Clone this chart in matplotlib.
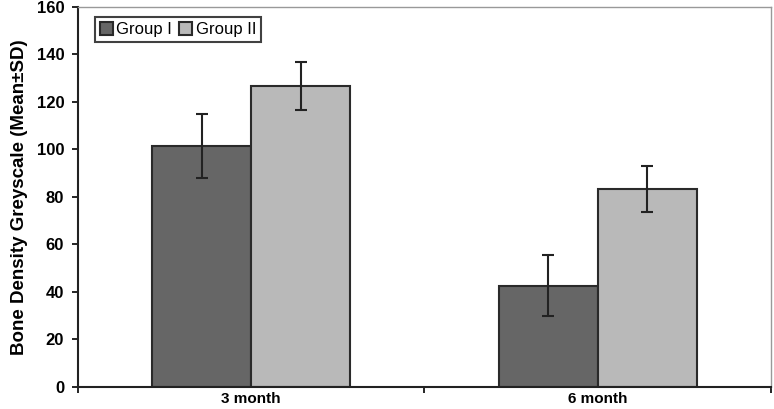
import numpy as np
import matplotlib.pyplot as plt

# --- Data ---
categories = ["3 month", "6 month"]
group_labels = ["Group I", "Group II"]
group1_mean = [101.5, 42.5]
group1_sd = [13.5, 12.8]
group2_mean = [126.7, 83.5]
group2_sd = [10.0, 9.7]

plt.rcParams['font.family'] = ['Liberation Sans', 'DejaVu Sans']

fig = plt.figure(figsize=(7.74, 4.09), dpi=100)
ax = fig.add_axes([0.1008, 0.0545, 0.8952, 0.9285])

x = np.arange(len(categories))
w = 1 / 3.5
ax.bar(x - w / 2, group1_mean, w, yerr=group1_sd, color='#666666',
       edgecolor='#2a2a2a', linewidth=1.5, label=group_labels[0],
       error_kw=dict(ecolor='#222222', elinewidth=1.5, capsize=4, capthick=1.5))
ax.bar(x + w / 2, group2_mean, w, yerr=group2_sd, color='#b9b9b9',
       edgecolor='#2a2a2a', linewidth=1.5, label=group_labels[1],
       error_kw=dict(ecolor='#222222', elinewidth=1.5, capsize=4, capthick=1.5))

ax.set_xlim(-0.5, 1.5)
ax.set_ylim(0, 160)
ax.set_yticks(np.arange(0, 161, 20))
ax.set_xticks(x)
ax.set_xticklabels(categories, fontweight='bold', fontsize=11)
ax.set_xticks([-0.5, 0.5, 1.5], minor=True)
ax.tick_params(axis='x', which='major', length=0, pad=4)
ax.tick_params(axis='x', which='minor', length=4, width=1.2, direction='out')
ax.tick_params(axis='y', length=4, width=1.2, labelsize=12, pad=6)
for lbl in ax.get_yticklabels():
    lbl.set_fontweight('bold')

ax.set_ylabel("Bone Density Greyscale (Mean\u00b1SD)", fontweight='bold',
              fontsize=13.5, labelpad=6)

for s in ['left', 'bottom']:
    ax.spines[s].set_color('#222222')
    ax.spines[s].set_linewidth(1.5)
for s in ['top', 'right']:
    ax.spines[s].set_color('#999999')
    ax.spines[s].set_linewidth(1.0)

leg = ax.legend(loc='upper left', bbox_to_anchor=(0.024, 0.973), ncol=2,
                frameon=True, fancybox=False, fontsize=12, handlelength=0.8,
                handleheight=0.8, handletextpad=0.2, columnspacing=0.4,
                borderpad=0.3, borderaxespad=0)
leg.get_frame().set_edgecolor('#111111')
leg.get_frame().set_linewidth(1.5)

fig.savefig("out.png", dpi=100)
